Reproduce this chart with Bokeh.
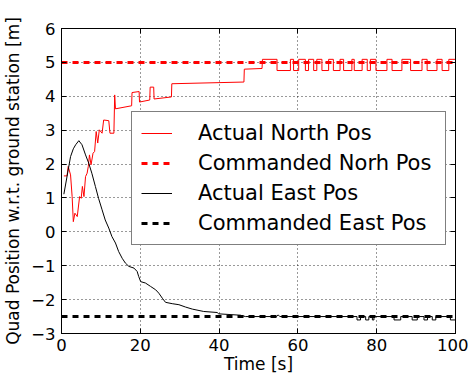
from bokeh.plotting import figure
from bokeh.models import LinearAxis, FixedTicker, Legend, LegendItem, Range1d
from bokeh.embed import file_html
from bokeh.resources import INLINE

# ---- data ----
north_t = [0.6, 1.4, 1.7, 2.3, 2.7, 3.0, 3.4, 4.0, 4.6, 5.0, 5.3, 5.7, 6.1, 6.5, 6.8, 7.1, 7.5,
           8.0, 8.4, 8.8, 9.2, 9.6, 10.3, 10.7, 12.0, 12.3, 13.3, 13.5, 13.7, 17.8, 17.9, 19.7,
           19.8, 22.4, 22.5, 23.4, 23.5, 27.9, 28.0, 46.3, 46.4, 50.9, 51.0,
           54.7, 54.7, 58.1, 58.1, 58.9, 58.9, 60.2, 60.2, 61.9, 61.9, 62.7, 62.7, 64.0, 64.0,
           64.8, 64.8, 66.1, 66.1, 67.8, 67.8, 69.0, 69.0, 70.7, 70.7, 71.6, 71.6, 73.7, 73.7,
           74.3, 74.3, 76.3, 76.3, 77.6, 77.6, 78.4, 78.4, 79.8, 79.8, 82.6, 82.6, 83.9, 83.9,
           86.4, 86.4, 88.6, 88.6, 91.5, 91.5, 92.8, 92.8, 95.3, 95.3, 96.6, 96.6, 98.3, 98.3, 100.0]
north_v = [1.65, 1.65, 1.93, 1.68, 1.04, 0.30, 0.55, 0.45, 1.04, 0.99, 1.34, 1.04, 1.63, 1.73,
           1.93, 2.27, 1.98, 2.32, 2.37, 2.96, 2.62, 3.01, 2.91, 3.30, 3.28, 2.91, 2.91, 4.04,
           3.63, 3.72, 4.11, 4.14, 3.83, 3.89, 4.27, 4.27, 3.92, 3.98, 4.37, 4.42, 4.80, 4.82, 5.09,
           5.09, 4.76, 4.76, 5.09, 5.09, 4.76, 4.76, 5.09, 5.09, 4.76, 4.76, 5.09, 5.09, 4.76,
           4.76, 5.09, 5.09, 4.76, 4.76, 5.09, 5.09, 4.76, 4.76, 5.09, 5.09, 4.76, 4.76, 5.09,
           5.09, 4.76, 4.76, 5.09, 5.09, 4.76, 4.76, 5.09, 5.09, 4.76, 4.76, 5.09, 5.09, 4.76,
           4.76, 5.09, 5.09, 4.76, 4.76, 5.09, 5.09, 4.76, 4.76, 5.09, 5.09, 4.76, 4.76, 5.09, 5.09]

east_t = [0.6, 1.2, 2.3, 3.0, 3.6, 4.4, 5.2, 6.1, 6.9, 7.7, 8.6, 9.4, 10.3, 11.1, 12.0, 12.8,
          13.7, 14.5, 15.4, 16.2, 17.1, 18.4, 19.2, 19.6, 20.1, 21.3, 22.6, 23.9, 24.7, 25.6,
          26.4, 28.1, 29.8, 31.5, 33.2, 36.1, 39.5, 39.9, 45.4, 46.7, 54.6, 55.0, 55.4,
          75.0, 75.0, 75.9, 75.9, 77.2, 77.2, 78.0, 78.0, 78.9, 78.9, 79.3, 79.3,
          84.4, 84.4, 86.1, 86.1, 89.0, 89.0, 90.3, 90.3, 92.0, 92.0, 92.9, 92.9,
          94.1, 94.1, 95.0, 95.0, 98.7, 98.7, 100.0]
east_v = [1.11, 1.50, 2.22, 2.45, 2.57, 2.69, 2.57, 2.27, 2.03, 1.73, 1.34, 0.99, 0.65, 0.35,
          0.11, -0.14, -0.33, -0.58, -0.78, -0.92, -1.02, -1.07, -1.17, -1.32, -1.47, -1.51,
          -1.61, -1.71, -1.81, -1.96, -2.08, -2.12, -2.15, -2.22, -2.28, -2.35, -2.38, -2.42,
          -2.46, -2.50, -2.50, -2.45, -2.50,
          -2.50, -2.60, -2.60, -2.50, -2.50, -2.60, -2.60, -2.50, -2.50, -2.60, -2.60, -2.50,
          -2.50, -2.60, -2.60, -2.50, -2.50, -2.60, -2.60, -2.50, -2.50, -2.60, -2.60, -2.50,
          -2.50, -2.60, -2.60, -2.50, -2.50, -2.60, -2.60]

cmd_t = [0, 100]
cmd_north = [5.0, 5.0]
cmd_east = [-2.5, -2.5]

x_ticks = [0, 20, 40, 60, 80, 100]
y_ticks = [-3, -2, -1, 0, 1, 2, 3, 4, 5, 6]
y_tick_labels = {t: (str(t) if t >= 0 else "\u2212" + str(-t)) for t in y_ticks}

legend_labels = ["Actual North Pos", "Commanded Norh Pos", "Actual East Pos", "Commanded East Pos"]

FONT = "DejaVu Sans"

p = figure(width=468, height=377, output_backend="svg", toolbar_location=None,
           x_range=Range1d(0, 100), y_range=Range1d(-3, 6),
           min_border_left=61, min_border_right=13, min_border_top=28, min_border_bottom=44)
p.background_fill_color = "white"
p.border_fill_color = "white"
p.outline_line_color = "black"
p.outline_line_width = 1

r1 = p.line(north_t, north_v, line_color="#ff0000", line_width=1)
r2 = p.line(cmd_t, cmd_north, line_color="#ff0000", line_width=3, line_dash="6 5")
r3 = p.line(east_t, east_v, line_color="black", line_width=1)
r4 = p.line(cmd_t, cmd_east, line_color="black", line_width=3, line_dash="6 5")

# axes
for ax in [p.xaxis[0], p.yaxis[0]]:
    ax.major_tick_in = 5
    ax.major_tick_out = 0
    ax.minor_tick_in = 0
    ax.minor_tick_out = 0
    ax.axis_line_color = "black"
    ax.major_tick_line_color = "black"
    ax.major_label_text_font = FONT
    ax.major_label_text_font_size = "16.5px"
    ax.major_label_text_color = "black"
    ax.axis_label_text_font = FONT
    ax.axis_label_text_font_style = "normal"
    ax.axis_label_text_color = "black"
    ax.axis_label_text_font_size = "17px"

p.xaxis[0].ticker = FixedTicker(ticks=x_ticks)
p.yaxis[0].ticker = FixedTicker(ticks=y_ticks)
p.yaxis[0].major_label_overrides = y_tick_labels
p.xaxis[0].axis_label = "Time [s]"
p.xaxis[0].major_label_standoff = 5
p.xaxis[0].axis_label_standoff = 0
p.yaxis[0].axis_label = "Quad Position w.r.t. ground station [m]"
p.yaxis[0].major_label_standoff = 6
p.yaxis[0].axis_label_standoff = 5

for side, ticks in [("above", x_ticks), ("right", y_ticks)]:
    ax = LinearAxis(ticker=FixedTicker(ticks=ticks), major_tick_in=5, major_tick_out=0,
                    minor_tick_in=0, minor_tick_out=0, major_label_text_font_size="1px",
                    major_label_text_color=None, major_label_standoff=0,
                    axis_line_color="black", major_tick_line_color="black")
    p.add_layout(ax, side)

p.xgrid.grid_line_color = "black"
p.ygrid.grid_line_color = "black"
p.xgrid.grid_line_dash = "1 3"
p.ygrid.grid_line_dash = "1 3"
p.xgrid.grid_line_alpha = 0.8
p.ygrid.grid_line_alpha = 0.8
p.xgrid.ticker = FixedTicker(ticks=x_ticks)
p.ygrid.ticker = FixedTicker(ticks=y_ticks)

legend = Legend(items=[LegendItem(label=legend_labels[0], renderers=[r1]),
                       LegendItem(label=legend_labels[1], renderers=[r2]),
                       LegendItem(label=legend_labels[2], renderers=[r3]),
                       LegendItem(label=legend_labels[3], renderers=[r4])],
                location=(70, 88))
legend.label_text_font = FONT
legend.label_text_font_size = "21px"
legend.label_text_color = "black"
legend.glyph_width = 31
legend.glyph_height = 24
legend.label_height = 24
legend.label_width = 238
legend.label_standoff = 26
legend.spacing = 6
legend.padding = 9
legend.margin = 0
legend.border_line_color = "black"
legend.border_line_width = 1
legend.background_fill_color = "white"
legend.background_fill_alpha = 1
p.add_layout(legend)

open("out.html", "w").write(file_html(p, INLINE))
